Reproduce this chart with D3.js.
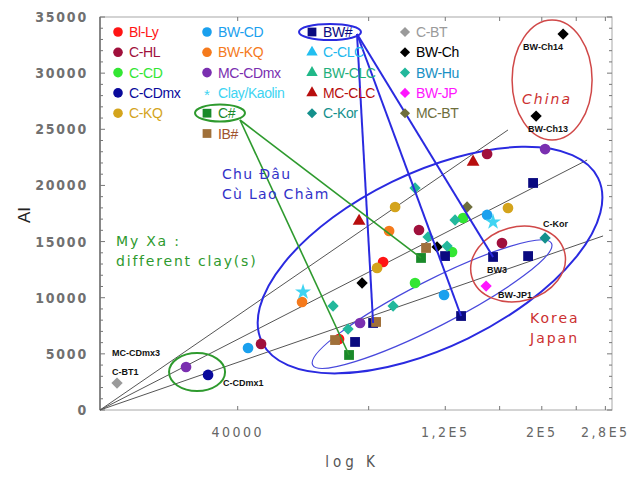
<!DOCTYPE html>
<html>
<head>
<meta charset="utf-8">
<script src="https://cdn.jsdelivr.net/npm/d3@7"></script>
<style>
  body { margin: 0; background: #fff; }
  svg { display: block; }
</style>
</head>
<body>
<svg id="chart" width="635" height="477"></svg>
<script>
// ---- data (K on a log axis, AI linear) ----
let blLy = [[86350, 13180], [68390, 6320]];
let cHL = [[104400, 16030], [149730, 22800], [162010, 14870], [45260, 5880]];
let cCD = [[102250, 11310], [131850, 17100], [124380, 14070]];
let cCDmx = [[34190, 3120]];
let cKQ = [[92010, 18080], [83650, 12650], [167240, 17990]];
let bwCD = [[42250, 5520], [119230, 10240], [149730, 17370]];
let bwKQ = [[89130, 15940], [56230, 9620]];
let mcCDmx = [[30430, 3830], [76440, 7750], [203520, 23240]];
let clayKaolin = [[56530, 10510], [154530, 16740]];
let cSharp = [[72110, 4900], [105550, 13540]];
let bwSharp = [[81900, 7750], [74440, 6060], [119860, 13710], [130460, 8370], [154530, 13630], [186010, 13710], [190990, 20220]];
let ibSharp = [[83210, 7840], [66960, 6230], [108390, 14430]];
let cCLC = [];
let bwCLC = [];
let mcCLC = [[76040, 16830], [139030, 22090]];
let cKor = [[203520, 15320]];
let cBT = [[21120, 2400]];
let bwCh = [[77260, 11310], [114890, 14520], [223870, 33480], [194050, 26180]];
let bwHu = [[66260, 9260], [71730, 7210], [91040, 9260], [102250, 19770], [126380, 16920], [109540, 15410], [121130, 14600]];
let bwJP = [[148940, 11040]];
let mcBT = [[134670, 18080]];

let xTickValues = [40000, 80000, 120000, 160000, 200000, 240000, 280000];
let xTickLabels = ["40000", "", "1,2E5", "", "2E5", "", "2,8E5"];
let yTickValues = [0, 5000, 10000, 15000, 20000, 25000, 30000, 35000];

// lines through the origin corner
let trendEnds = [[167240, 24940], [254200, 22260], [276600, 15500]];
let origin = [19300, 0];

// labelled points
let pointLabels = [
  {text: "BW-Ch14", at: [223870, 33480]},
  {text: "BW-Ch13", at: [194050, 26180]},
  {text: "C-Kor", at: [203520, 15320]},
  {text: "BW3", at: [154530, 13630]},
  {text: "BW-JP1", at: [148940, 11040]},
  {text: "MC-CDmx3", at: [30430, 3830]},
  {text: "C-BT1", at: [21120, 2400]},
  {text: "C-CDmx1", at: [34190, 3120]}
];
let labelOffsets = [[-40, 16], [-8, 16], [-2, -11], [-6, 16], [12, 12], [-74, -11], [-5, -8], [15, 11]];

// callouts from the legend to the points they name
let bwCallouts = [[81900, 7750], [130460, 8370], [154530, 13630]];
let cCallouts = [[72110, 4900], [105550, 13540]];

let margin = {top: 17, right: 23, bottom: 67, left: 100};
let width = 635 - margin.left - margin.right;
let height = 477 - margin.top - margin.bottom;

let x = d3.scaleLog().domain([19300, 290000]).range([margin.left, margin.left + width]);
let y = d3.scaleLinear().domain([0, 35000]).range([margin.top + height, margin.top]);

let series = [
  {name: "Bl-Ly", data: blLy, color: "#ff1414", shape: "circle"},
  {name: "C-HL", data: cHL, color: "#a0103c", shape: "circle"},
  {name: "C-CD", data: cCD, color: "#33e633", shape: "circle"},
  {name: "C-CDmx", data: cCDmx, color: "#0a0a9c", shape: "circle"},
  {name: "C-KQ", data: cKQ, color: "#d4a41c", shape: "circle"},
  {name: "BW-CD", data: bwCD, color: "#1aa0ee", shape: "circle"},
  {name: "BW-KQ", data: bwKQ, color: "#f57a1c", shape: "circle"},
  {name: "MC-CDmx", data: mcCDmx, color: "#7a2fb0", shape: "circle"},
  {name: "Clay/Kaolin", data: clayKaolin, color: "#40d4f2", shape: "star"},
  {name: "C#", data: cSharp, color: "#1a8a2a", shape: "square"},
  {name: "BW#", data: bwSharp, color: "#0a0a80", shape: "square"},
  {name: "IB#", data: ibSharp, color: "#a0703a", shape: "square"},
  {name: "C-CLC", data: cCLC, color: "#22bff0", shape: "triangle"},
  {name: "BW-CLC", data: bwCLC, color: "#20b888", shape: "triangle"},
  {name: "MC-CLC", data: mcCLC, color: "#b80e0e", shape: "triangle"},
  {name: "C-Kor", data: cKor, color: "#14908c", shape: "diamond"},
  {name: "C-BT", data: cBT, color: "#9a9a9a", shape: "diamond"},
  {name: "BW-Ch", data: bwCh, color: "#000000", shape: "diamond"},
  {name: "BW-Hu", data: bwHu, color: "#22b89c", shape: "diamond"},
  {name: "BW-JP", data: bwJP, color: "#ff14ff", shape: "diamond"},
  {name: "MC-BT", data: mcBT, color: "#6e6e3c", shape: "diamond"}
];
let byName = {};
series.forEach(s => byName[s.name] = s);

let legendCols = [
  ["Bl-Ly", "C-HL", "C-CD", "C-CDmx", "C-KQ"],
  ["BW-CD", "BW-KQ", "MC-CDmx", "Clay/Kaolin", "C#", "IB#"],
  ["BW#", "C-CLC", "BW-CLC", "MC-CLC", "C-Kor"],
  ["C-BT", "BW-Ch", "BW-Hu", "BW-JP", "MC-BT"]
];
let legendTextColor = {"BW-Hu": "#1890c4", "IB#": "#a0522d", "BW-CLC": "#1fb07c", "C-CLC": "#20b8ee"};

let svg = d3.select("#chart");

function symbolPath(shape, big) {
  let k = big ? 1 : 0.8;
  if (shape === "circle") return d3.symbol(d3.symbolCircle, 90 * k)();
  if (shape === "square") return d3.symbol(d3.symbolSquare, 96 * k)();
  if (shape === "triangle") return d3.symbol(d3.symbolTriangle, 70 * k)();
  if (shape === "diamond") return d3.symbol(d3.symbolSquare, 64 * k)();
  return d3.symbol(d3.symbolStar, 80 * k)();
}

// frame + ticks
svg.append("rect")
  .attr("x", margin.left).attr("y", margin.top)
  .attr("width", width).attr("height", height)
  .attr("fill", "none").attr("stroke", "#a8a8a8").attr("stroke-width", 1);
svg.append("line")
  .attr("x1", margin.left).attr("x2", margin.left)
  .attr("y1", margin.top).attr("y2", margin.top + height)
  .attr("stroke", "#555").attr("stroke-width", 1.2);

let minorY = d3.range(0, 35001, 1000);
let tickG = svg.append("g").attr("stroke", "#777").attr("stroke-width", 1);
minorY.forEach(v => {
  let len = v % 5000 === 0 ? 5 : 3;
  tickG.append("line").attr("x1", margin.left).attr("x2", margin.left + len).attr("y1", y(v)).attr("y2", y(v));
  tickG.append("line").attr("x1", margin.left + width).attr("x2", margin.left + width - len).attr("y1", y(v)).attr("y2", y(v));
});
xTickValues.forEach(v => {
  tickG.append("line").attr("x1", x(v)).attr("x2", x(v)).attr("y1", margin.top + height).attr("y2", margin.top + height - 4);
  tickG.append("line").attr("x1", x(v)).attr("x2", x(v)).attr("y1", margin.top).attr("y2", margin.top + 4);
});

let tickFont = "'Liberation Sans Narrow', 'DejaVu Sans Condensed', sans-serif";
svg.append("g").selectAll("text")
  .data(yTickValues)
  .enter().append("text")
  .attr("x", 88).attr("y", d => y(d) + 5)
  .attr("text-anchor", "end")
  .attr("font-family", tickFont).attr("font-size", 14)
  .attr("font-weight", "bold")
  .attr("letter-spacing", 1.8)
  .attr("fill", "#707070")
  .text(d => d);

svg.append("g").selectAll("text")
  .data(xTickValues)
  .enter().append("text")
  .attr("x", d => x(d)).attr("y", 437)
  .attr("text-anchor", "middle")
  .attr("font-family", tickFont).attr("font-size", 14)
  .attr("letter-spacing", 2.5)
  .attr("fill", "#666")
  .text((d, i) => xTickLabels[i]);

svg.append("text")
  .attr("x", 352).attr("y", 467)
  .attr("text-anchor", "middle")
  .attr("font-family", tickFont).attr("font-size", 15)
  .attr("letter-spacing", 4)
  .attr("fill", "#555")
  .text("log K");

svg.append("text")
  .attr("transform", "translate(30,215) rotate(-90)")
  .attr("text-anchor", "middle")
  .attr("font-family", "Liberation Sans, Arial, sans-serif")
  .attr("font-size", 17)
  .attr("fill", "#222")
  .text("AI");

// lines from the origin
svg.append("g").selectAll("line")
  .data(trendEnds)
  .enter().append("line")
  .attr("x1", x(origin[0])).attr("y1", y(origin[1]))
  .attr("x2", d => x(d[0])).attr("y2", d => y(d[1]))
  .attr("stroke", "#555").attr("stroke-width", 1);

// group ellipses (centres in data units, radii in px)
let ellipses = [
  {c: [110700, 13350], rx: 187, ry: 87, rot: -26, color: "#2a2ae0", w: 2},
  {c: [111900, 9430], rx: 134, ry: 23, rot: -27, color: "#4848dc", w: 1.2},
  {c: [176400, 13000], rx: 48, ry: 37, rot: -15, color: "#d04848", w: 1.5},
  {c: [211200, 29390], rx: 40, ry: 60, rot: 0, color: "#d04848", w: 1.5},
  {c: [32260, 3380], rx: 28, ry: 19, rot: 0, color: "#2e9a2e", w: 2}
];
svg.append("g").selectAll("ellipse")
  .data(ellipses)
  .enter().append("ellipse")
  .attr("transform", d => "translate(" + x(d.c[0]) + "," + y(d.c[1]) + ") rotate(" + d.rot + ")")
  .attr("rx", d => d.rx).attr("ry", d => d.ry)
  .attr("fill", "none")
  .attr("stroke", d => d.color).attr("stroke-width", d => d.w);

// points
series.forEach(s => {
  svg.append("g").selectAll("path")
    .data(s.data)
    .enter().append("path")
    .attr("d", symbolPath(s.shape, true))
    .attr("transform", d => "translate(" + x(d[0]) + "," + y(d[1]) + ")" + (s.shape === "diamond" ? " rotate(45)" : ""))
    .attr("fill", s.color);
});

// callout lines
svg.append("g").selectAll("line")
  .data(bwCallouts)
  .enter().append("line")
  .attr("x1", 357).attr("y1", 34)
  .attr("x2", d => x(d[0])).attr("y2", d => y(d[1]))
  .attr("stroke", "#2a2ae0").attr("stroke-width", 2);
svg.append("g").selectAll("line")
  .data(cCallouts)
  .enter().append("line")
  .attr("x1", 240).attr("y1", 120)
  .attr("x2", d => x(d[0])).attr("y2", d => y(d[1]))
  .attr("stroke", "#2e9a2e").attr("stroke-width", 1.6);

// point labels
svg.append("g").selectAll("text")
  .data(pointLabels)
  .enter().append("text")
  .attr("x", (d, i) => x(d.at[0]) + labelOffsets[i][0])
  .attr("y", (d, i) => y(d.at[1]) + labelOffsets[i][1])
  .attr("font-family", "Liberation Sans, Arial, sans-serif")
  .attr("font-size", 9).attr("font-weight", "bold")
  .attr("fill", "#111")
  .text(d => d.text);

// legend
let colX = [118, 207, 312, 405];
legendCols.forEach((col, ci) => {
  col.forEach((name, ri) => {
    let s = byName[name];
    let cy = 32 + ri * 20.3;
    let g = svg.append("g").attr("transform", "translate(" + colX[ci] + "," + cy + ")");
    if (s.shape === "star") {
      g.append("text").attr("x", 0).attr("y", 7).attr("text-anchor", "middle")
        .attr("font-family", "Liberation Sans, Arial, sans-serif").attr("font-size", 15)
        .attr("fill", s.color).text("*");
    } else {
      g.append("path").attr("d", symbolPath(s.shape, false))
        .attr("transform", s.shape === "diamond" ? "rotate(45)" : null)
        .attr("fill", s.color);
    }
    g.append("text").attr("x", 11).attr("y", 5)
      .attr("font-family", "Liberation Sans, Arial, sans-serif")
      .attr("font-size", 14).attr("letter-spacing", -0.4)
      .attr("fill", legendTextColor[name] || s.color)
      .text(name);
  });
});

// legend ellipses
svg.append("ellipse").attr("cx", 330).attr("cy", 32).attr("rx", 31).attr("ry", 8)
  .attr("fill", "none").attr("stroke", "#2a2ae0").attr("stroke-width", 2);
svg.append("ellipse").attr("cx", 220).attr("cy", 113).attr("rx", 25).attr("ry", 8.5)
  .attr("fill", "none").attr("stroke", "#2e9a2e").attr("stroke-width", 2);

// region notes
let noteFont = "'DejaVu Sans', sans-serif";
function note(lines, x0, y0, color, italic, spacing) {
  lines.forEach((t, i) => {
    svg.append("text").attr("x", x0).attr("y", y0 + i * 20)
      .attr("font-family", noteFont).attr("font-size", 14)
      .attr("font-style", italic ? "italic" : "normal")
      .attr("letter-spacing", spacing)
      .attr("fill", color).text(t);
  });
}
note(["Chu Đâu", "Cù Lao Chàm"], 222, 179, "#3232c8", false, 1.3);
note(["My Xa :", "different clay(s)"], 116, 246, "#2e9a2e", false, 1.8);
note(["China"], 522, 104, "#cc3030", true, 2);
note(["Korea", "Japan"], 530, 323, "#cc3030", false, 2);
</script>
</body>
</html>
